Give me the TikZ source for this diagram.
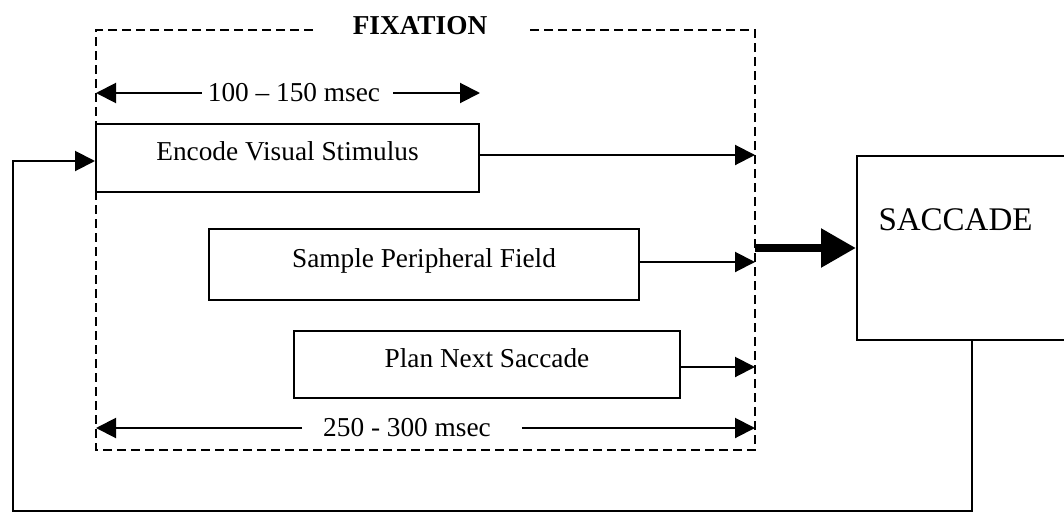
\documentclass[tikz,border=0pt]{standalone}
\usepackage{fontspec}
\setmainfont{Liberation Serif}
\usetikzlibrary{arrows.meta}
\begin{document}
\begin{tikzpicture}[x=1pt,y=-1pt,
  every node/.style={font=\fontsize{27.3}{32}\selectfont},
  box/.style={draw, line width=2pt, inner sep=0pt, text height=18pt, text depth=12pt},
  arr/.style={line width=2pt, -{Triangle[length=20pt,width=20pt]}},
  thk/.style={line width=8.5pt, -{Triangle[length=35pt,width=37pt]}},
  dsh/.style={line width=2pt, dash pattern=on 9pt off 5pt}]
\useasboundingbox (0,0) rectangle (1064,514);

% fixation region (dashed)
\coordinate (fL) at (96,0);
\coordinate (fR) at (755,0);
\draw[dsh] (313,30) -- (96,30) -- (96,450) -- (755,450) -- (755,30) -- (528,30);
\node[font=\fontsize{27.3}{32}\selectfont\bfseries] (fix) at (420,26) {FIXATION};

% boxes
\node[box, minimum width=383pt, minimum height=68pt] (enc) at (287.5,157.5) {Encode Visual Stimulus};
\node[box, minimum width=430pt, minimum height=71pt] (smp) at (424,264.5) {Sample Peripheral Field};
\node[box, minimum width=386pt, minimum height=67pt] (pln) at (487,364.5) {Plan Next Saccade};
\node[draw, line width=2pt, minimum width=213pt, minimum height=184pt] (sac) at (963.5,248) {};
\node[font=\fontsize{33}{38}\selectfont] (sact) at (955.5,219.5) {SACCADE};

% arrows to the fixation boundary
\draw[arr] ([yshift=2.5pt]enc.east) -- ([yshift=2.5pt]enc.east -| fR);
\draw[arr] ([yshift=2.5pt]smp.east) -- ([yshift=2.5pt]smp.east -| fR);
\draw[arr] ([yshift=-2.5pt]pln.east) -- ([yshift=-2.5pt]pln.east -| fR);

% thick arrow to saccade
\coordinate (fx) at (755,248);
\draw[thk] (fx) -- (sac.west);

% feedback loop
\coordinate (fb1) at (972,511);
\coordinate (fb2) at (13,511);
\coordinate (fb3) at (13,161);
\draw[arr] (sac.south -| fb1) -- (fb1) -- (fb2) -- (fb3) -- (enc.west |- fb3);

% duration measures
\node[inner xsep=6pt, inner ysep=0pt] (t1) at (294,93) {100 \textendash{} 150 msec};
\draw[arr] (t1.west) -- (t1.west -| fL);
\draw[arr] ([xshift=7pt]t1.east) -- (t1.east -| enc.east);

\node[inner xsep=21pt, inner ysep=0pt] (t2) at (407,428) {250 - 300 msec};
\draw[arr] (t2.west) -- (t2.west -| fL);
\draw[arr] ([xshift=10pt]t2.east) -- (t2.east -| fR);
\end{tikzpicture}
\end{document}
